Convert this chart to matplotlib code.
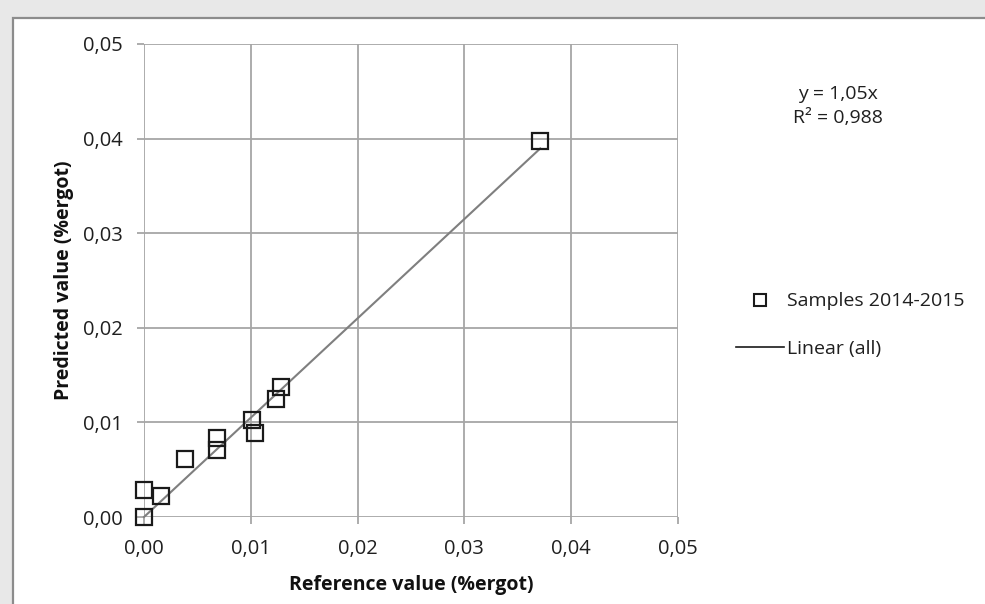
import matplotlib
matplotlib.use("Agg")
import matplotlib.pyplot as plt
import numpy as np
from matplotlib.ticker import FuncFormatter, MultipleLocator
from matplotlib.patches import Rectangle
from matplotlib.lines import Line2D

# Data
reference = [0.0000, 0.0000, 0.0016, 0.0038, 0.0068, 0.0068, 0.0101, 0.0104, 0.0124, 0.0128, 0.0371]
predicted = [0.0000, 0.0029, 0.0022, 0.0061, 0.0084, 0.0071, 0.0103, 0.0089, 0.0125, 0.0137, 0.0397]
slope = 1.05
r2 = 0.988
series_label = "Samples 2014-2015"
trend_label = "Linear (all)"
x_label = "Reference value (%ergot)"
y_label = "Predicted value (%ergot)"

plt.rcParams['font.family'] = ['Open Sans', 'DejaVu Sans']

fig = plt.figure(figsize=(9.85, 6.04), dpi=100)
fig.patch.set_facecolor('#e8e8e8')
W, H = 985, 604
panel = Rectangle((13 / W, -0.01), 1.0, 1 - 18 / H + 0.01, transform=fig.transFigure,
                  facecolor='white', edgecolor='#8c8c8c', linewidth=1.6, zorder=-5)
fig.patches.append(panel)

ax = fig.add_axes([144 / W, 1 - 517 / H, (678 - 144) / W, (517 - 44) / H])
ax.set_zorder(2)
ax.set_facecolor('none')
ax.set_xlim(0, 0.05)
ax.set_ylim(0, 0.05)
ax.xaxis.set_major_locator(MultipleLocator(0.01))
ax.yaxis.set_major_locator(MultipleLocator(0.01))
fmt = FuncFormatter(lambda v, p: f"{v:.2f}".replace('.', ','))
ax.xaxis.set_major_formatter(fmt)
ax.yaxis.set_major_formatter(fmt)
for s in ax.spines.values():
    s.set_visible(False)
ax.grid(True, color='#a6a6a6', linewidth=1.3)
ax.set_axisbelow(True)
ax.tick_params(axis='both', length=5, width=1.3, color='#a6a6a6', labelsize=14.5,
               labelcolor='#1f1f1f')
ax.tick_params(axis='x', pad=11)
ax.tick_params(axis='y', pad=10.5)

xs = np.array([0, max(reference)])
ax.plot(xs, slope * xs, color='#7f7f7f', linewidth=1.5, zorder=2, clip_on=False)
ax.plot(reference, predicted, linestyle='none', marker='s', markersize=12,
        markerfacecolor='none', markeredgecolor='#1a1a1a', markeredgewidth=1.6,
        zorder=3, clip_on=False)

ax.set_xlabel(x_label, fontsize=14, fontweight='bold', labelpad=11.5, color='#111111')
ax.set_ylabel(y_label, fontsize=14, fontweight='bold', labelpad=6, color='#111111')

eq = f"y = {slope:.2f}x".replace('.', ',') + "\n" + f"R² = {r2:.3f}".replace('.', ',')
fig.text(838 / W, 1 - 106 / H, eq, ha='center', va='center', fontsize=14,
         color='#1f1f1f', linespacing=1.45)

handles = [Line2D([], [], linestyle='none', marker='s', markersize=9, markerfacecolor='none',
                  markeredgecolor='#1a1a1a', markeredgewidth=1.5),
           Line2D([], [], color='#1a1a1a', linewidth=1.2)]
leg = fig.legend(handles, [series_label, trend_label], loc='center left',
                 bbox_to_anchor=(718 / W, 1 - 325 / H), frameon=False, fontsize=14,
                 handlelength=2.5, handletextpad=0.15, labelspacing=1.5)
for t in leg.get_texts():
    t.set_color('#1f1f1f')

fig.savefig("out.png", dpi=100, facecolor=fig.get_facecolor())
